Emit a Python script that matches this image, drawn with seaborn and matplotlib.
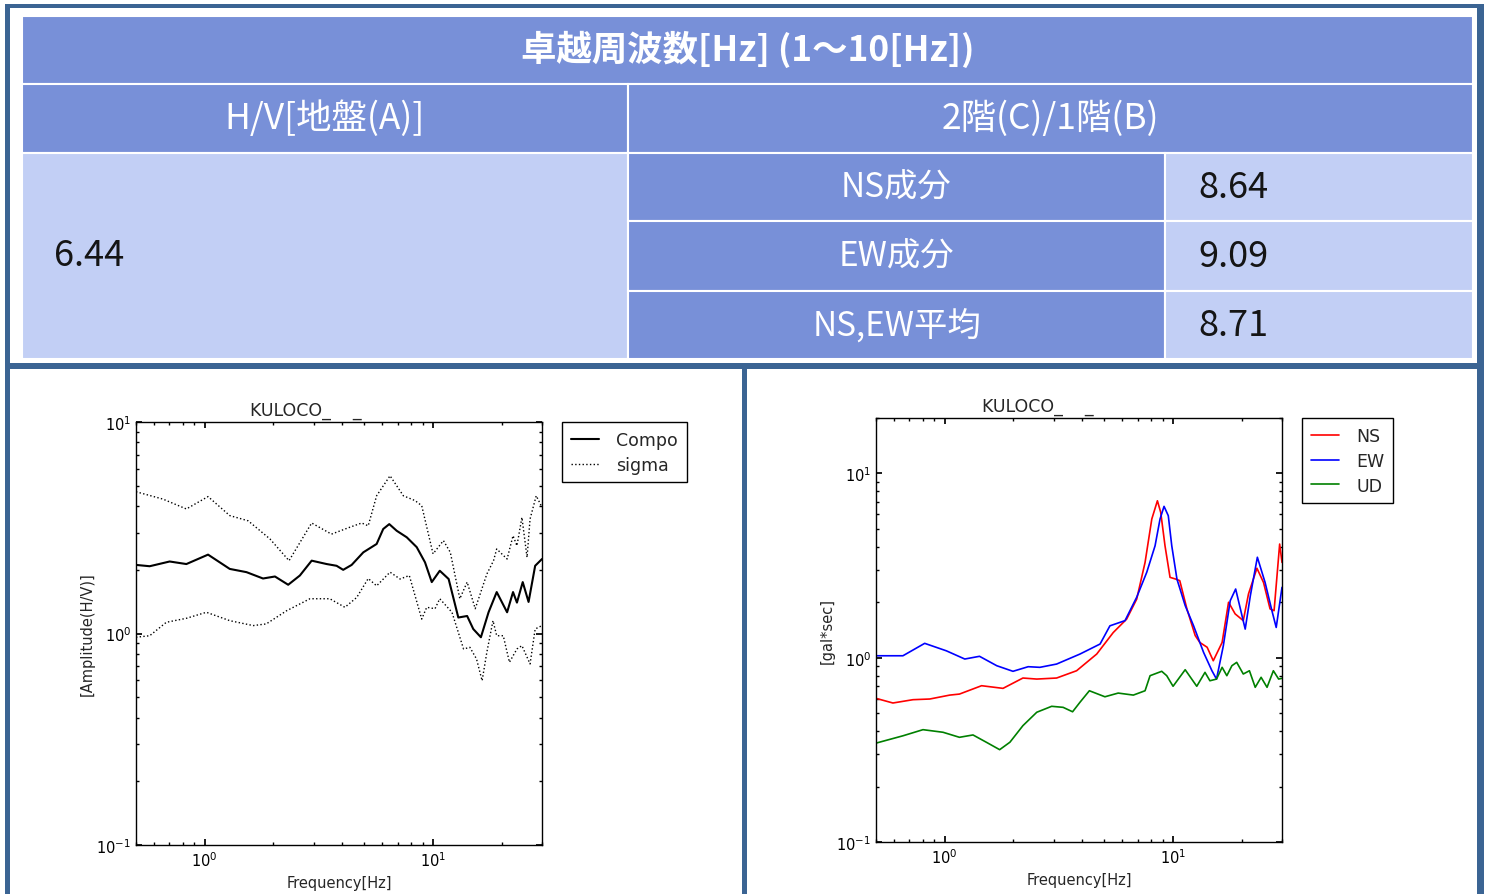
import matplotlib
matplotlib.use("Agg")
import matplotlib.pyplot as plt
from matplotlib.patches import Rectangle
from matplotlib.ticker import NullFormatter
import seaborn as sns

# ---- table contents ----
header_text = "卓越周波数[Hz] (1～10[Hz])"
group_labels = ["H/V[地盤(A)]", "2階(C)/1階(B)"]
hv_peak = 6.44
comp_labels = ["NS成分", "EW成分", "NS,EW平均"]
comp_values = [8.64, 9.09, 8.71]

# ---- left panel: H/V spectrum ----
hv_freq = [0.5, 0.574, 0.702, 0.831, 1.034, 1.287, 1.524, 1.80, 2.03, 2.32,
           2.61, 2.94, 3.42, 3.78, 4.04, 4.40, 4.95, 5.66, 6.05, 6.43,
           6.93, 7.67, 8.48, 9.22, 9.87, 10.7, 11.7, 12.9, 14.1, 15.0,
           16.2, 17.5, 19.0, 21.1, 22.4, 23.3, 24.7, 26.2, 28.0, 30.0]
hv_compo = [2.11, 2.08, 2.19, 2.13, 2.36, 2.02, 1.95, 1.82, 1.86, 1.70,
            1.88, 2.21, 2.13, 2.09, 2.00, 2.11, 2.42, 2.65, 3.12, 3.29,
            3.06, 2.85, 2.56, 2.17, 1.75, 1.98, 1.81, 1.19, 1.21, 1.05,
            0.96, 1.26, 1.57, 1.26, 1.57, 1.40, 1.75, 1.41, 2.09, 2.25]

sig_hi_freq = [0.5, 0.656, 0.831, 1.034, 1.287, 1.55, 1.93, 2.34, 2.94, 3.59,
               4.32, 4.87, 5.20, 5.66, 6.48, 7.41, 8.34, 8.92, 10.0, 11.1,
               11.9, 13.1, 14.1, 15.3, 17.2, 18.4, 19.0, 21.1, 22.4, 23.3,
               24.5, 25.8, 26.6, 28.3, 30.0]
sig_hi = [4.68, 4.32, 3.88, 4.44, 3.61, 3.41, 2.80, 2.21, 3.33, 2.95,
          3.18, 3.33, 3.23, 4.48, 5.57, 4.48, 4.25, 4.02, 2.38, 2.75,
          2.42, 1.46, 1.75, 1.31, 1.91, 2.21, 2.51, 2.25, 2.90, 2.60,
          3.54, 2.29, 3.48, 4.48, 3.95]

sig_lo_freq = [0.5, 0.574, 0.679, 0.831, 1.017, 1.287, 1.63, 1.86, 2.28, 2.89,
               3.53, 4.11, 4.63, 5.20, 5.66, 6.48, 7.17, 7.87, 8.92, 9.38,
               10.2, 10.7, 12.1, 13.6, 14.5, 15.5, 16.4, 17.2, 18.3, 19.0,
               20.3, 21.6, 23.3, 24.5, 26.6, 28.0, 30.0]
sig_lo = [0.96, 0.976, 1.13, 1.18, 1.26, 1.15, 1.09, 1.11, 1.28, 1.46,
          1.46, 1.33, 1.48, 1.82, 1.68, 1.95, 1.81, 1.88, 1.17, 1.33,
          1.31, 1.46, 1.26, 0.845, 0.86, 0.758, 0.598, 0.815, 1.15, 0.976,
          0.976, 0.731, 0.845, 0.876, 0.718, 1.05, 1.09]

# ---- right panel: Fourier spectra per component ----
ns_freq = [0.5, 0.593, 0.726, 0.86, 1.052, 1.16, 1.45, 1.80, 2.20, 2.53,
           3.09, 3.78, 4.63, 5.47, 6.26, 6.93, 7.54, 8.07, 8.54, 8.83,
           9.22, 9.70, 10.3, 10.7, 11.5, 12.5, 13.1, 14.1, 15.0, 16.4,
           17.5, 18.7, 20.3, 21.4, 23.3, 24.9, 26.6, 27.7, 29.3, 30.0]
ns_amp = [0.602, 0.568, 0.592, 0.597, 0.627, 0.635, 0.705, 0.682, 0.776, 0.766,
          0.776, 0.85, 1.047, 1.37, 1.62, 2.08, 3.29, 5.66, 7.11, 6.15,
          4.05, 2.73, 2.67, 2.62, 1.84, 1.32, 1.21, 1.14, 0.963, 1.21,
          2.0, 1.73, 1.59, 2.22, 3.06, 2.56, 1.84, 1.80, 4.14, 3.29]

ew_freq = [0.5, 0.656, 0.817, 1.017, 1.224, 1.42, 1.69, 1.99, 2.32, 2.61,
           3.09, 3.91, 4.79, 5.29, 6.16, 6.93, 7.67, 8.34, 8.77, 9.13,
           9.53, 9.87, 10.4, 11.3, 12.3, 13.6, 14.8, 15.5, 16.6, 17.8,
           18.8, 20.7, 21.8, 23.4, 25.3, 27.1, 28.3, 30.0]
ew_amp = [1.025, 1.025, 1.197, 1.09, 0.984, 1.018, 0.905, 0.844, 0.894, 0.887,
          0.924, 1.047, 1.187, 1.49, 1.59, 2.13, 2.91, 4.05, 5.66, 6.63,
          5.90, 4.05, 2.67, 1.92, 1.49, 1.07, 0.85, 0.766, 1.16, 2.04,
          2.36, 1.43, 2.17, 3.51, 2.56, 1.80, 1.46, 2.41]

ud_freq = [0.5, 0.656, 0.803, 0.983, 1.16, 1.33, 1.52, 1.74, 1.93, 2.20,
           2.53, 2.94, 3.30, 3.63, 3.91, 4.30, 5.03, 5.75, 6.70, 7.54,
           7.93, 8.92, 9.38, 10.0, 11.3, 12.7, 13.8, 14.5, 15.5, 16.4,
           17.2, 18.1, 19.0, 20.3, 21.6, 22.9, 24.3, 25.8, 27.5, 29.0, 30.0]
ud_amp = [0.344, 0.377, 0.407, 0.394, 0.370, 0.381, 0.348, 0.317, 0.348, 0.428,
          0.506, 0.545, 0.538, 0.509, 0.573, 0.662, 0.614, 0.643, 0.627, 0.662,
          0.799, 0.844, 0.799, 0.70, 0.861, 0.70, 0.833, 0.75, 0.766, 0.887,
          0.799, 0.905, 0.944, 0.816, 0.85, 0.691, 0.783, 0.691, 0.85, 0.766, 0.773]

station_title = "KULOCO_    _"

# ---- style ----
sns.set_theme(style="ticks", rc={
    "xtick.direction": "in", "ytick.direction": "in",
    "xtick.top": True, "ytick.right": True,
    "axes.edgecolor": "black", "axes.linewidth": 1.0,
    "xtick.color": "black", "ytick.color": "black",
    "xtick.major.size": 4, "ytick.major.size": 4,
    "xtick.minor.size": 2, "ytick.minor.size": 2,
})
plt.rcParams["font.family"] = ["DejaVu Sans", "Noto Sans CJK JP"]
CJK = ["Noto Sans CJK JP", "DejaVu Sans"]

FRAME = "#3b6493"
DARK = "#7890d8"
LIGHT = "#c2cff5"

W, H = 1489, 895
fig = plt.figure(figsize=(W / 100, H / 100), dpi=100)
fig.patch.set_facecolor("white")

# background layer in pixel coordinates for the frame and the table
bg = fig.add_axes([0, 0, 1, 1])
bg.set_xlim(0, W)
bg.set_ylim(H, 0)
bg.axis("off")


def box(x0, y0, x1, y1, color, edge="none", lw=0):
    bg.add_patch(Rectangle((x0, y0), x1 - x0, y1 - y0, facecolor=color,
                           edgecolor=edge, linewidth=lw))


# frame
box(5, 5, 1484, 9, FRAME)
box(5, 5, 10, H, FRAME)
box(1477, 5, 1484, H, FRAME)
box(5, 364, 1484, 370, FRAME)
box(742, 364, 747, H, FRAME)

# table cells
cols = [22, 628, 1165, 1473]
rows = [17, 85, 154, 222, 292, 360]
box(cols[0], rows[0], cols[3], rows[1], DARK, "white", 1.5)
box(cols[0], rows[1], cols[1], rows[2], DARK, "white", 1.5)
box(cols[1], rows[1], cols[3], rows[2], DARK, "white", 1.5)
box(cols[0], rows[2], cols[1], rows[5], LIGHT, "white", 1.5)
for i in range(3):
    box(cols[1], rows[2 + i], cols[2], rows[3 + i], DARK, "white", 1.5)
    box(cols[2], rows[2 + i], cols[3], rows[3 + i], LIGHT, "white", 1.5)

bg.text((cols[0] + cols[3]) / 2, 49, header_text, ha="center", va="center",
        color="white", fontsize=25.5, fontweight="bold", family=CJK)
bg.text((cols[0] + cols[1]) / 2, 119, group_labels[0], ha="center", va="center",
        color="white", fontsize=25.5, family=CJK)
bg.text((cols[1] + cols[3]) / 2, 119, group_labels[1], ha="center", va="center",
        color="white", fontsize=25.5, family=CJK)
bg.text(54, 256, f"{hv_peak:.2f}", ha="left", va="center",
        color="#151515", fontsize=26, family=CJK)
for i, (lab, val) in enumerate(zip(comp_labels, comp_values)):
    yc = (rows[2 + i] + rows[3 + i]) / 2
    bg.text((cols[1] + cols[2]) / 2, yc, lab, ha="center", va="center",
            color="white", fontsize=24, family=CJK)
    bg.text(1198, yc, f"{val:.2f}", ha="left", va="center",
            color="#151515", fontsize=26, family=CJK)

# ---- plot panels ----
ax1 = fig.add_axes([136 / W, 1 - 846 / H, 406 / W, 423 / H])
ax2 = fig.add_axes([876 / W, 1 - 843 / H, 406 / W, 424 / H])

sns.lineplot(x=hv_freq, y=hv_compo, ax=ax1, color="black", linewidth=1.5, label="Compo")
sns.lineplot(x=sig_hi_freq, y=sig_hi, ax=ax1, color="black", linewidth=1.0,
             linestyle=":", label="sigma")
sns.lineplot(x=sig_lo_freq, y=sig_lo, ax=ax1, color="black", linewidth=1.0, linestyle=":")

sns.lineplot(x=ns_freq, y=ns_amp, ax=ax2, color="red", linewidth=1.2, label="NS")
sns.lineplot(x=ew_freq, y=ew_amp, ax=ax2, color="blue", linewidth=1.2, label="EW")
sns.lineplot(x=ud_freq, y=ud_amp, ax=ax2, color="green", linewidth=1.2, label="UD")

ax1.set(xscale="log", yscale="log", xlim=(0.5, 30), ylim=(0.1, 10))
ax2.set(xscale="log", yscale="log", xlim=(0.5, 30), ylim=(0.1, 20))

for ax, ylab, tx in [(ax1, "[Amplitude(H/V)]", 0.281), (ax2, "[gal*sec]", 0.261)]:
    ax.xaxis.set_minor_formatter(NullFormatter())
    ax.yaxis.set_minor_formatter(NullFormatter())
    ax.tick_params(which="both", direction="in", top=True, right=True, labelsize=10.5)
    ax.set_xlabel("Frequency[Hz]", fontsize=10.5)
    ax.set_ylabel(ylab, fontsize=10.5)
    ax.xaxis.set_label_coords(0.5, -0.071)
    ax.yaxis.set_label_coords(-0.101, 0.5)
    ax.text(tx, 1.008, station_title, transform=ax.transAxes, ha="left",
            va="bottom", fontsize=12.5)
    leg = ax.legend(loc="upper left", bbox_to_anchor=(1.05, 1), borderaxespad=0,
                    fancybox=False, edgecolor="black", framealpha=1, fontsize=12.5,
                    handlelength=1.6, handletextpad=1.0, borderpad=0.5,
                    labelspacing=0.4)
    leg.get_frame().set_linewidth(1.0)

fig.savefig("out.png", dpi=100)
